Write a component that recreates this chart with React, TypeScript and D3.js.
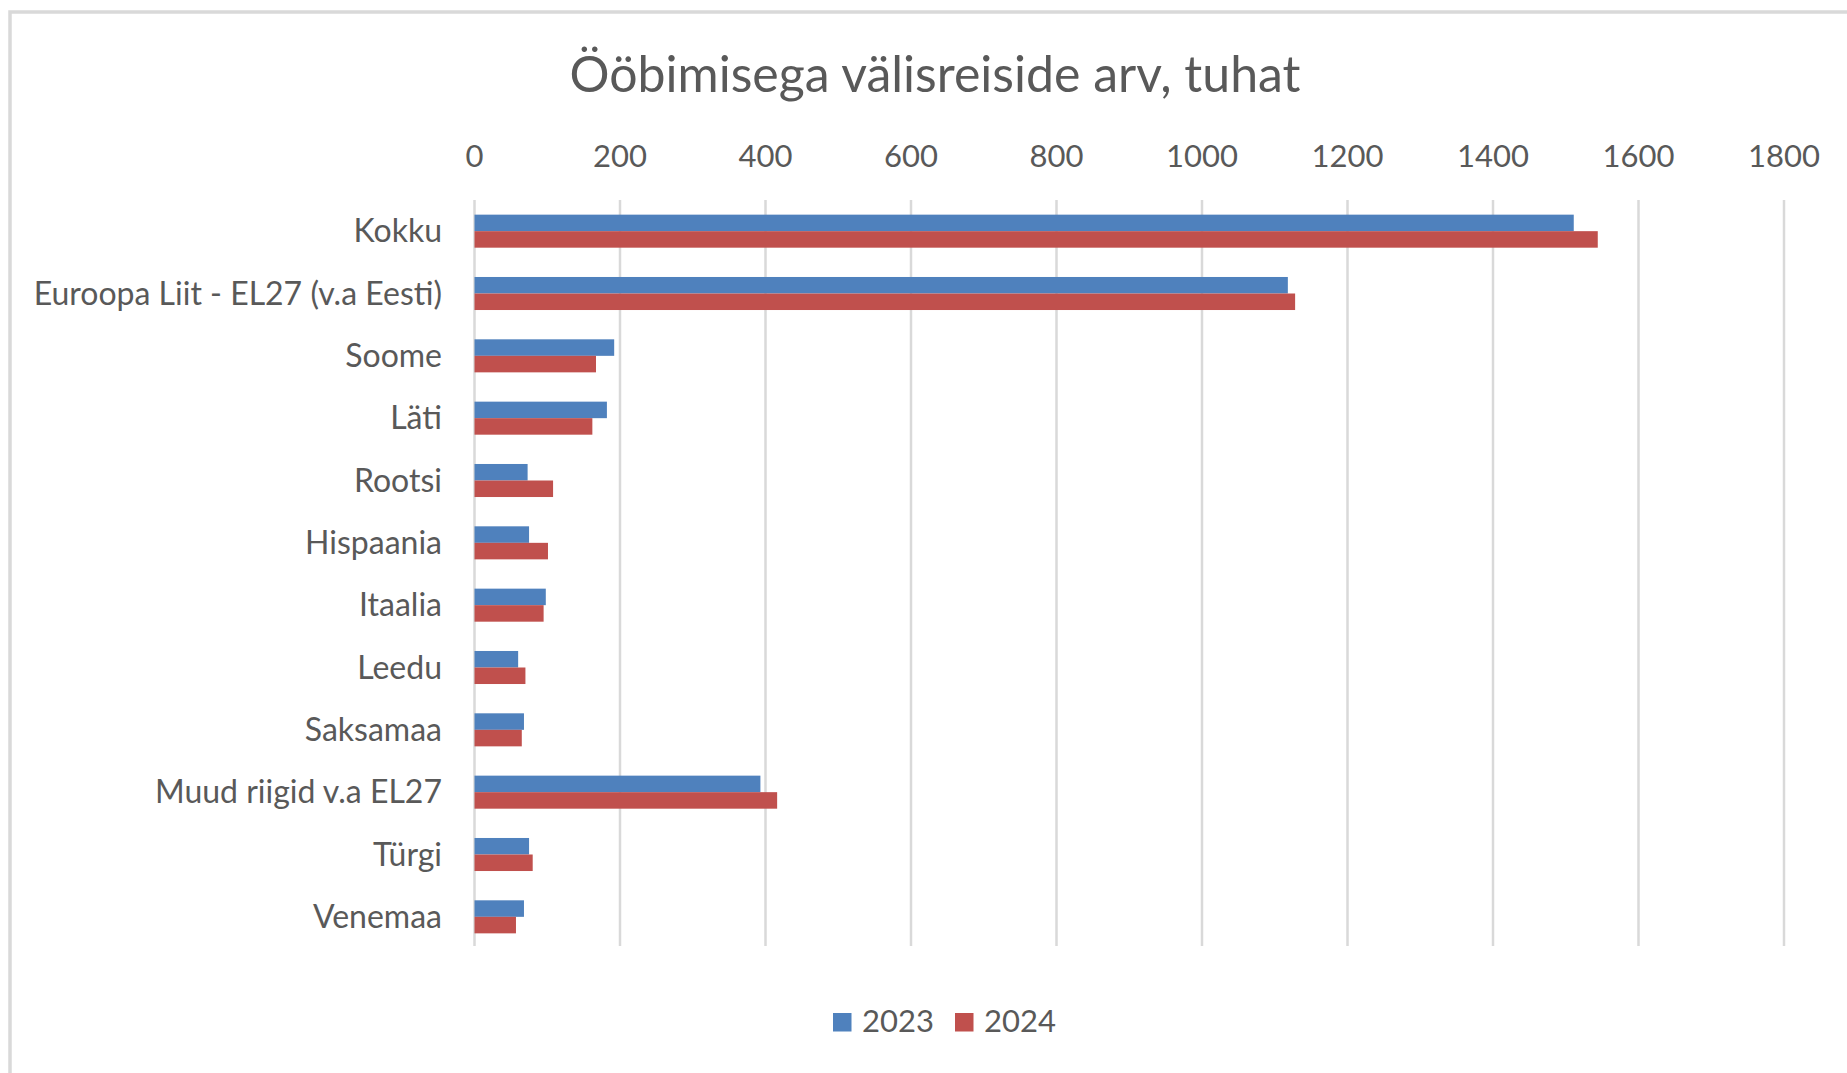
import React from "react";
import * as d3 from "d3";

const categories = [
  "Kokku",
  "Euroopa Liit - EL27 (v.a Eesti)",
  "Soome",
  "Läti",
  "Rootsi",
  "Hispaania",
  "Itaalia",
  "Leedu",
  "Saksamaa",
  "Muud riigid v.a EL27",
  "Türgi",
  "Venemaa",
];
const values2023 = [1511, 1118, 192, 182, 73, 75, 98, 60, 68, 393, 75, 68];
const values2024 = [1544, 1128, 167, 162, 108, 101, 95, 70, 65, 416, 80, 57];
const seriesNames = ["2023", "2024"];
const seriesColors = ["#4f81bd", "#c0504d"];
const xTicks = [0, 200, 400, 600, 800, 1000, 1200, 1400, 1600, 1800];
const title = "Ööbimisega välisreiside arv, tuhat";

const W = 1847;
const H = 1073;
const FONT = "Lato, 'Open Sans', sans-serif";
const TXT = "#595959";

export default function App() {
  const x = d3.scaleLinear().domain([0, 1800]).range([474.5, 1784]);
  const y = d3
    .scaleBand<string>()
    .domain(categories)
    .range([200, 948])
    .paddingInner(0.47)
    .paddingOuter(0.235);
  const ySub = d3
    .scaleBand<string>()
    .domain(seriesNames)
    .range([0, y.bandwidth()]);
  const series = [values2023, values2024];

  return (
    <div style={{ position: "absolute", left: 0, top: 0 }}>
      <svg width={W} height={H} style={{ display: "block", background: "#fff" }}>
        <rect x={0} y={0} width={W} height={H} fill="#fff" />
        <rect
          x={10}
          y={12}
          width={W + 50}
          height={H + 50}
          fill="none"
          stroke="#d9d9d9"
          strokeWidth={3.5}
        />
        <text
          x={935}
          y={92}
          textAnchor="middle"
          fontFamily={FONT}
          fontSize={50}
          fill={TXT}
        >
          {title}
        </text>
        {xTicks.map((t) => (
          <g key={t}>
            <line
              x1={x(t)}
              x2={x(t)}
              y1={200}
              y2={946}
              stroke="#d9d9d9"
              strokeWidth={2.5}
            />
            <text
              x={x(t)}
              y={167}
              textAnchor="middle"
              fontFamily={FONT}
              fontSize={31}
              fill={TXT}
            >
              {t}
            </text>
          </g>
        ))}
        {categories.map((c, i) => (
          <g key={c}>
            <text
              x={442}
              y={(y(c) as number) + y.bandwidth() / 2}
              dy="0.35em"
              textAnchor="end"
              fontFamily={FONT}
              fontSize={32}
              fill={TXT}
            >
              {c}
            </text>
            {series.map((vals, si) => (
              <rect
                key={si}
                x={x(0)}
                y={(y(c) as number) + (ySub(seriesNames[si]) as number)}
                width={x(vals[i]) - x(0)}
                height={ySub.bandwidth()}
                fill={seriesColors[si]}
              />
            ))}
          </g>
        ))}
        {/* legend */}
        <rect x={833} y={1013} width={18.5} height={18.5} fill={seriesColors[0]} />
        <text x={862} y={1032} fontFamily={FONT} fontSize={31} fill={TXT}>
          {seriesNames[0]}
        </text>
        <rect x={955} y={1013} width={18.5} height={18.5} fill={seriesColors[1]} />
        <text x={984} y={1032} fontFamily={FONT} fontSize={31} fill={TXT}>
          {seriesNames[1]}
        </text>
      </svg>
    </div>
  );
}
